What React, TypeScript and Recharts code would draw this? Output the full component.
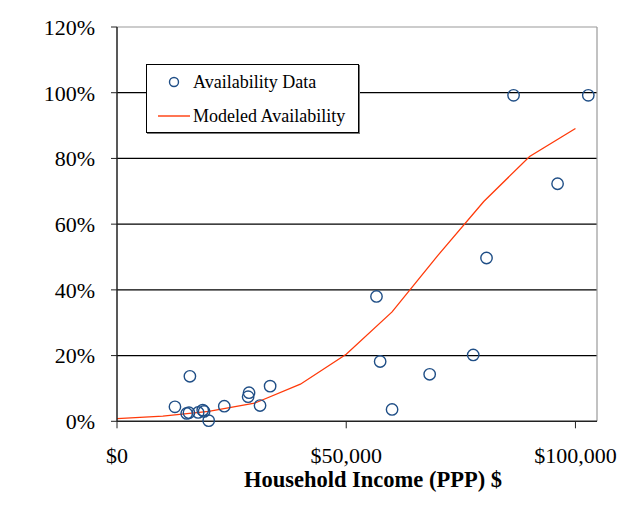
import React from 'react';
import {
  ComposedChart,
  Scatter,
  Line,
  XAxis,
  YAxis,
  CartesianGrid,
  ReferenceLine,
  Legend,
  Label,
} from 'recharts';

// observed points (household income in PPP $, availability in %)
const incomeObserved = [
  12640, 15900, 15200, 15700, 17700, 18700, 19000, 20000, 23400, 28800, 28600,
  31200, 33400, 56600, 57400, 60000, 68200, 77700, 80600, 86500, 96100, 102800,
];
const availabilityObserved = [
  4.4, 13.7, 2.4, 2.6, 2.7, 3.4, 3.0, 0.2, 4.6, 8.7, 7.5, 4.8, 10.7, 38.0, 18.2,
  3.6, 14.3, 20.2, 49.7, 99.2, 72.3, 99.2,
];

// modeled curve
const incomeModel = [0, 10000, 20000, 30000, 40000, 50000, 60000, 70000, 80000, 90000, 100000];
const availabilityModel = [0.8, 1.6, 3.0, 5.5, 11.3, 20.4, 33.3, 50.5, 66.9, 80.6, 89.1];

const xTicks = [0, 50000, 100000];
const yTicks = [0, 20, 40, 60, 80, 100, 120];
const gridValues = [20, 40, 60, 80, 100];

const X_MAX = 104700;
const FONT = '"Liberation Serif", "Times New Roman", serif';
const DOT_COLOR = '#1F4E86';
const LINE_COLOR = '#FF3A0A';

const observed = incomeObserved.map((x, i) => ({ x, y: availabilityObserved[i] }));
const modeled = incomeModel.map((x, i) => ({ x, y: availabilityModel[i] }));

const RingDot = (props: any) => {
  const { cx, cy } = props;
  if (cx == null || cy == null) return null;
  return <circle cx={cx} cy={cy} r={5.7} fill="none" stroke={DOT_COLOR} strokeWidth={1.4} />;
};

const LegendBox = (props: any) => {
  const items = [...(props.payload || [])].sort((a: any, b: any) =>
    a.type === 'line' ? 1 : b.type === 'line' ? -1 : 0
  );
  return (
    <div
      style={{
        border: '1px solid #000',
        background: '#fff',
        boxShadow: '1px 1px 0 #777',
        width: 213,
        height: 69,
        boxSizing: 'border-box',
        fontFamily: FONT,
        fontSize: 18,
        color: '#000',
        paddingTop: 0,
        textAlign: 'left',
      }}
    >
      {items.map((entry: any) => (
        <div key={entry.value} style={{ display: 'flex', alignItems: 'center', height: 34 }}>
          <svg width={46} height={20} style={{ flex: 'none' }}>
            {entry.type === 'line' ? (
              <line x1={11} y1={10} x2={43} y2={10} stroke={LINE_COLOR} strokeWidth={1.4} />
            ) : (
              <circle cx={27} cy={10} r={4.5} fill="none" stroke={DOT_COLOR} strokeWidth={1.4} />
            )}
          </svg>
          <span style={{ whiteSpace: 'nowrap' }}>{entry.value}</span>
        </div>
      ))}
    </div>
  );
};

export default function App() {
  return (
    <div style={{ position: 'relative', width: 642, height: 508, margin: -8, overflow: 'hidden', background: '#fff' }}>
      <div
        style={{
          position: 'absolute',
          left: 7,
          top: 3,
          width: 700,
          height: 503,
          borderLeft: '1px solid #444',
          borderTop: '1px solid #444',
          borderBottom: '1px solid #ddd',
        }}
      />
      <div style={{ position: 'absolute', left: 0, top: 0 }}>
        <ComposedChart width={642} height={508} margin={{ top: 27, right: 45, left: 0, bottom: 0 }}>
          <CartesianGrid horizontal vertical={false} horizontalValues={gridValues} stroke="#000" strokeWidth={1.2} />
          <XAxis
            type="number"
            dataKey="x"
            domain={[0, X_MAX]}
            ticks={xTicks}
            allowDataOverflow
            height={86.7}
            tickSize={7}
            tickMargin={19}
            tickFormatter={(v: number) => '$' + v.toLocaleString('en-US')}
            tick={{ fill: '#000', fontSize: 22, fontFamily: FONT }}
            axisLine={{ stroke: '#222', strokeWidth: 1.5 }}
            tickLine={{ stroke: '#222' }}
          >
            <Label
              value="Household Income (PPP) $"
              position="insideBottom"
              offset={21}
              dx={16}
              style={{ fontSize: 22.5, fontWeight: 'bold', fontFamily: FONT, fill: '#000' }}
            />
          </XAxis>
          <YAxis
            type="number"
            dataKey="y"
            domain={[0, 120]}
            ticks={yTicks}
            width={117}
            tickSize={6}
            tickMargin={16}
            tickFormatter={(v: number) => `${v}%`}
            tick={{ fill: '#000', fontSize: 22, fontFamily: FONT }}
            axisLine={{ stroke: '#222', strokeWidth: 1.5 }}
            tickLine={{ stroke: '#222' }}
          />
          <ReferenceLine y={120} stroke="#999" strokeWidth={1.2} />
          <ReferenceLine x={X_MAX} stroke="#999" strokeWidth={1.2} />
          <Line
            data={modeled}
            dataKey="y"
            name="Modeled Availability"
            type="linear"
            stroke={LINE_COLOR}
            strokeWidth={1.3}
            dot={false}
            legendType="line"
            isAnimationActive={false}
          />
          <Scatter
            data={observed}
            dataKey="y"
            name="Availability Data"
            shape={<RingDot />}
            legendType="circle"
            isAnimationActive={false}
          />
          <Legend
            content={<LegendBox />}
            layout="vertical"
            verticalAlign="middle"
            align="center"
            wrapperStyle={{ left: 146, top: 64, width: 213, height: 69 }}
          />
        </ComposedChart>
      </div>
    </div>
  );
}
